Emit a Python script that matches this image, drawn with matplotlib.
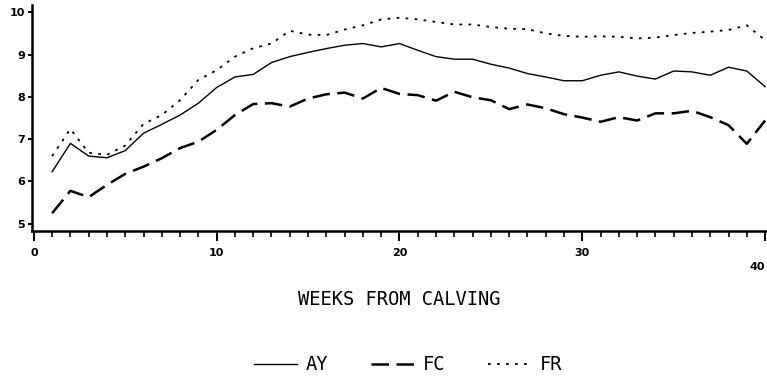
import numpy as np
import matplotlib.pyplot as plt
from matplotlib.ticker import MultipleLocator

# weeks from calving
weeks = list(range(1, 41))

ay = [6.23, 6.90, 6.60, 6.56, 6.73, 7.14, 7.35, 7.57, 7.85, 8.22,
      8.47, 8.53, 8.81, 8.95, 9.05, 9.14, 9.22, 9.26, 9.18, 9.26,
      9.10, 8.95, 8.89, 8.89, 8.77, 8.68, 8.55, 8.47, 8.38, 8.38,
      8.51, 8.59, 8.49, 8.42, 8.61, 8.59, 8.51, 8.70, 8.61, 8.24]

fc = [5.25, 5.78, 5.63, 5.92, 6.18, 6.35, 6.55, 6.79, 6.94, 7.22,
      7.57, 7.83, 7.85, 7.77, 7.96, 8.06, 8.10, 7.96, 8.21, 8.07,
      8.04, 7.91, 8.12, 7.99, 7.92, 7.71, 7.82, 7.73, 7.59, 7.51,
      7.41, 7.52, 7.44, 7.61, 7.61, 7.67, 7.52, 7.33, 6.89, 7.44]

fr = [6.60, 7.24, 6.68, 6.63, 6.85, 7.36, 7.57, 7.92, 8.40, 8.63,
      8.95, 9.15, 9.26, 9.56, 9.47, 9.46, 9.59, 9.69, 9.83, 9.87,
      9.83, 9.77, 9.71, 9.71, 9.65, 9.61, 9.60, 9.50, 9.44, 9.42,
      9.43, 9.42, 9.38, 9.40, 9.46, 9.51, 9.54, 9.58, 9.69, 9.34]

fig = plt.figure(figsize=(7.67, 3.77), dpi=100)
ax = fig.add_axes([32 / 767, 1 - 231 / 377, 734 / 767, 226 / 377])

ax.plot(weeks, ay, color='black', linewidth=1.0, label='AY')
ax.plot(weeks, fc, color='black', linewidth=1.8, dashes=(7, 3), label='FC')
ax.plot(weeks, fr, color='black', linewidth=1.3, dashes=(1.5, 3.5), label='FR')

ax.set_xlim(-0.1, 40.05)
ax.set_ylim(4.83, 10.17)

for s in ['top', 'right']:
    ax.spines[s].set_visible(False)
for s in ['left', 'bottom']:
    ax.spines[s].set_linewidth(1.8)

ax.set_yticks([5, 6, 7, 8, 9, 10])
ax.set_xticks([0, 10, 20, 30, 40])
ax.xaxis.set_minor_locator(MultipleLocator(1))
ax.tick_params(axis='x', which='major', direction='out', length=7, width=1.4, pad=5)
ax.tick_params(axis='x', which='minor', direction='out', length=4, width=1.2)
ax.tick_params(axis='y', direction='out', length=3, width=1.4, pad=2)
for lbl in ax.get_xticklabels() + ax.get_yticklabels():
    lbl.set_fontweight('bold')
    lbl.set_fontsize(8)

# the "40" label sits lower and flush right in the original
tick40 = ax.xaxis.get_major_ticks()[4]
tick40.set_pad(15)
tick40.label1.set_horizontalalignment('right')

ax.set_xlabel('WEEKS FROM CALVING', family='DejaVu Sans Mono', fontsize=13.5, labelpad=13)

fig.legend(loc='center', bbox_to_anchor=(408 / 767, 1 - 365 / 377), ncol=3,
           frameon=False, handlelength=2.3, columnspacing=2.3, handletextpad=0.45,
           prop={'family': 'DejaVu Sans Mono', 'size': 13.5})

fig.savefig('out.png', dpi=100)
